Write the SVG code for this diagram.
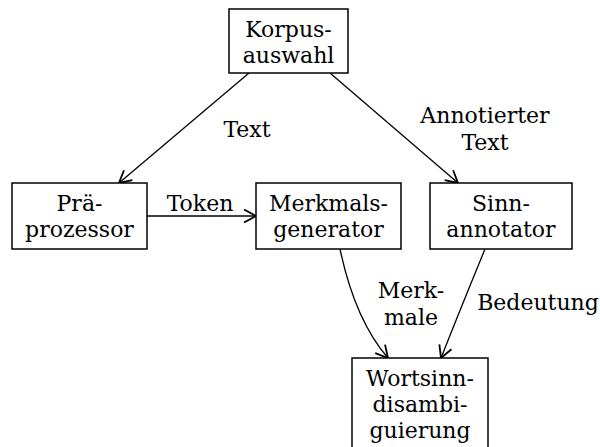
<svg xmlns="http://www.w3.org/2000/svg" width="600" height="447" viewBox="0 0 600 447">
<style>
.box{fill:#fff;stroke:#000;stroke-width:1.5}
text{font-family:"DejaVu Serif",serif;font-size:22px;fill:#000;text-anchor:middle}
.edge{fill:none;stroke:#000;stroke-width:1.3}
</style>
<defs>
<marker id="arr" viewBox="-14 -8 16 16" markerWidth="16" markerHeight="16" refX="0" refY="0" orient="auto" markerUnits="userSpaceOnUse">
<path d="M-12,-6.5 L0,0 L-12,6.5" fill="none" stroke="#000" stroke-width="1.8"/>
</marker>
</defs>
<rect width="600" height="447" fill="#fff"/>
<g id="edges">
<path class="edge" d="M249,73 L119,183" marker-end="url(#arr)"/>
<path class="edge" d="M330,73 L458,183" marker-end="url(#arr)"/>
<path class="edge" d="M147,216 L256,216" marker-end="url(#arr)"/>
<path class="edge" d="M340,249 Q355,320 388,358" marker-end="url(#arr)"/>
<path class="edge" d="M485,249 Q460,310 441,358" marker-end="url(#arr)"/>
<text x="247" y="137">Text</text>
<text x="485" y="123">Annotierter</text>
<text x="485" y="150">Text</text>
<text x="200" y="211">Token</text>
<text x="411" y="298">Merk-</text>
<text x="411" y="325">male</text>
<text x="538" y="310">Bedeutung</text>
</g>
<g id="korpus">
<rect class="box" x="229" y="9" width="119" height="64"/>
<text x="288.5" y="37">Korpus-</text>
<text x="288.5" y="63">auswahl</text>
</g>
<g id="praeprozessor">
<rect class="box" x="12" y="183" width="135" height="66"/>
<text x="79.5" y="211">Prä-</text>
<text x="79.5" y="237">prozessor</text>
</g>
<g id="merkmal">
<rect class="box" x="256" y="183" width="145" height="66"/>
<text x="328.5" y="211">Merkmals-</text>
<text x="328.5" y="237">generator</text>
</g>
<g id="sinn">
<rect class="box" x="430" y="183" width="142" height="66"/>
<text x="501" y="211">Sinn-</text>
<text x="501" y="237">annotator</text>
</g>
<g id="wortsinn">
<rect class="box" x="352" y="358" width="136" height="100"/>
<text x="420" y="386">Wortsinn-</text>
<text x="420" y="412">disambi-</text>
<text x="420" y="438">guierung</text>
</g>
</svg>
